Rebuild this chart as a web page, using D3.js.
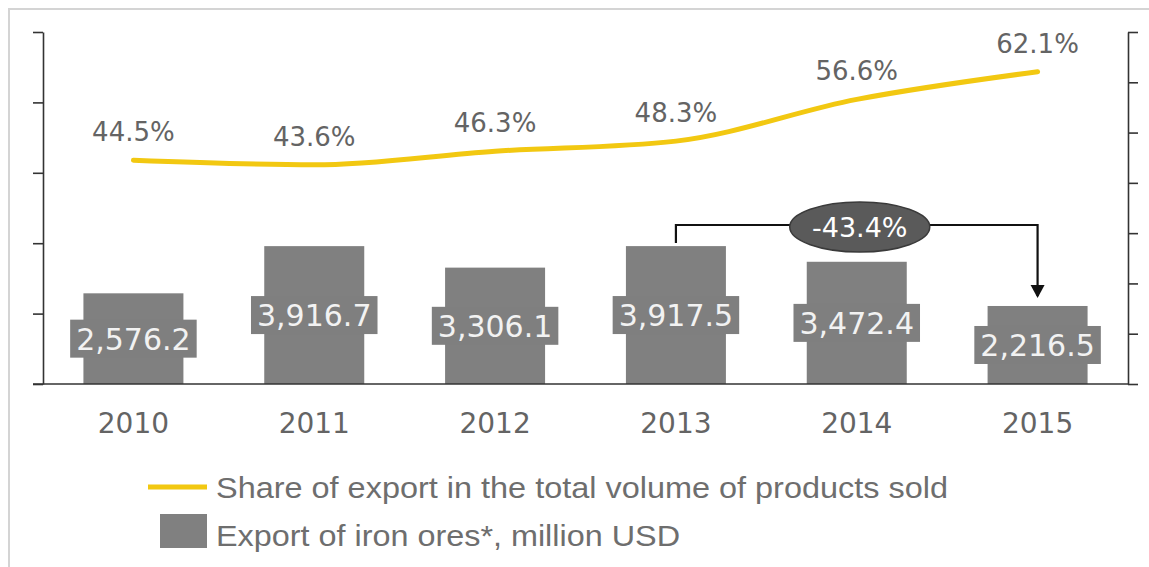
<!DOCTYPE html>
<html><head><meta charset="utf-8">
<script src="https://cdn.jsdelivr.net/npm/d3@7"></script>
<style>html,body{margin:0;padding:0;background:#fff;}svg{display:block;}</style>
</head><body>
<svg id="chart" width="1149" height="567"></svg>
<script>
const years = ["2010","2011","2012","2013","2014","2015"];
const exportValues = [2576.2, 3916.7, 3306.1, 3917.5, 3472.4, 2216.5];
const exportLabels = ["2,576.2","3,916.7","3,306.1","3,917.5","3,472.4","2,216.5"];
const shareValues = [44.5, 43.6, 46.3, 48.3, 56.6, 62.1];
const shareLabels = ["44.5%","43.6%","46.3%","48.3%","56.6%","62.1%"];
const leftTicks = [0, 2000, 4000, 6000, 8000, 10000];
const rightTicks = [0, 10, 20, 30, 40, 50, 60, 70];
const legendLabels = ["Share of export in the total volume of products sold", "Export of iron ores*, million USD"];
const changeLabel = "-43.4%";

const svg = d3.select("#chart");
const FONT = "'DejaVu Sans', Verdana, sans-serif";

// frame
svg.append("rect").attr("x",9).attr("y",9).attr("width",1160).attr("height",600)
  .attr("fill","none").attr("stroke","#d4d4d4").attr("stroke-width",2);

const x = d3.scaleBand().domain(years).range([43,1128]).paddingInner(0.447).paddingOuter(0.2235);
const yL = d3.scaleLinear().domain([0,10000]).range([384,32]);
const yR = d3.scaleLinear().domain([0,70]).range([384,32]);

// bars
svg.selectAll("rect.bar").data(years).join("rect").attr("class","bar")
  .attr("x",d=>x(d)).attr("width",x.bandwidth())
  .attr("y",(d,i)=>yL(exportValues[i])).attr("height",(d,i)=>yL(0)-yL(exportValues[i]))
  .attr("fill","#808080");

// axes
const axL = svg.append("g").attr("transform","translate(43,0)")
  .call(d3.axisLeft(yL).tickValues(leftTicks).tickSize(10).tickFormat("").tickSizeOuter(0));
const axR = svg.append("g").attr("transform","translate(1128,0)")
  .call(d3.axisRight(yR).tickValues(rightTicks).tickSize(10).tickFormat("").tickSizeOuter(0));
[axL,axR].forEach(a=>{a.selectAll("path,line").attr("stroke","#333").attr("stroke-width",1.6);});
// baseline
svg.append("line").attr("x1",33).attr("x2",1128).attr("y1",yL(0)).attr("y2",yL(0))
  .attr("stroke","#333").attr("stroke-width",1.6);

// x labels
const axB = svg.append("g").attr("transform",`translate(0,${yL(0)})`)
  .call(d3.axisBottom(x).tickSize(0).tickPadding(0));
axB.select("path").remove();
axB.selectAll("text").attr("dy",null).attr("y",49).attr("font-family",FONT).attr("font-size",28).attr("fill","#646464");

// bar labels with boxes
years.forEach((yr,i)=>{
  const cx = x(yr)+x.bandwidth()/2;
  const cy = (yL(exportValues[i])+yL(0))/2;
  const g = svg.append("g");
  const r = g.append("rect").attr("fill","#7f7f7f");
  const t = g.append("text").attr("x",cx).attr("y",cy+11).attr("text-anchor","middle")
    .attr("font-family",FONT).attr("font-size",30).attr("fill","#f2f2f2").text(exportLabels[i]);
  const w = t.node().getComputedTextLength();
  r.attr("x",cx-w/2-6).attr("y",cy-19).attr("width",w+12).attr("height",38);
});

// line
const line = d3.line().x((d,i)=>x(years[i])+x.bandwidth()/2).y(d=>yR(d)).curve(d3.curveMonotoneX);
svg.append("path").datum(shareValues).attr("d",line).attr("fill","none")
  .attr("stroke","#F2C811").attr("stroke-width",5).attr("stroke-linecap","round");
svg.selectAll("text.pct").data(shareValues).join("text").attr("class","pct")
  .attr("x",(d,i)=>x(years[i])+x.bandwidth()/2).attr("y",d=>yR(d)-19)
  .attr("text-anchor","middle").attr("font-family",FONT).attr("font-size",26).attr("fill","#646464")
  .text((d,i)=>shareLabels[i]);

// change annotation 2013 -> 2015
const x13 = x("2013")+x.bandwidth()/2, x15 = x("2015")+x.bandwidth()/2;
const yTop = 225;
svg.append("path").attr("d",`M${x13},${yL(exportValues[3])-3}V${yTop}H${x15}V${yL(exportValues[5])-10}`)
  .attr("fill","none").attr("stroke","#111").attr("stroke-width",2.2);
const tipY = yL(exportValues[5])-8;
svg.append("path").attr("d",`M${x15-7},${tipY-13}L${x15+7},${tipY-13}L${x15},${tipY}Z`).attr("fill","#111");
const ecx = (x13+x15)/2 + 3;
svg.append("ellipse").attr("cx",ecx).attr("cy",227).attr("rx",70).attr("ry",25)
  .attr("fill","#5a5a5a").attr("stroke","#3a3a3a").attr("stroke-width",1.5);
svg.append("text").attr("x",ecx).attr("y",237).attr("text-anchor","middle")
  .attr("font-family",FONT).attr("font-size",27).attr("fill","#fff").text(changeLabel);

// legend
svg.append("line").attr("x1",148).attr("x2",207).attr("y1",487).attr("y2",487)
  .attr("stroke","#F2C811").attr("stroke-width",5);
svg.append("rect").attr("x",160).attr("y",514).attr("width",47).attr("height",34).attr("fill","#808080");
const legW = [732, 464];
legendLabels.forEach((l,i)=>{
  svg.append("text").attr("x",216).attr("y",498+i*48)
    .attr("font-family","'Liberation Sans Narrow','Liberation Sans',Arial,sans-serif")
    .attr("font-size",30).attr("fill","#6e6e6e")
    .attr("textLength",legW[i]).attr("lengthAdjust","spacingAndGlyphs").text(l);
});
</script>
</body></html>
